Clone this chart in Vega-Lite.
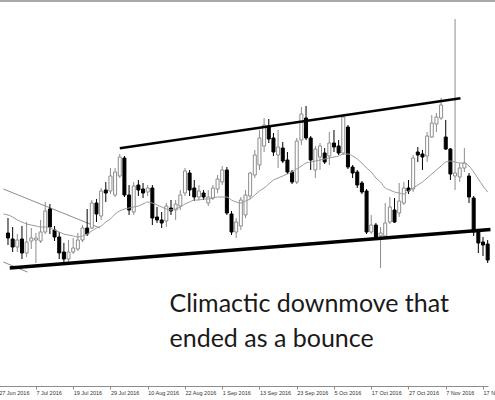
{
  "$schema": "https://vega.github.io/schema/vega-lite/v6.json",
  "width": 495,
  "height": 385,
  "autosize": {"type": "none"},
  "padding": {"left": 0, "top": 1, "right": 0, "bottom": 14},
  "background": "white",
  "config": {
    "view": {"stroke": null},
    "axis": {"grid": false}
  },
  "datasets": {
    "candles": [
      {"i":2,"o":1.2767,"h":1.2782,"l":1.2755,"c":1.2762},
      {"i":3,"o":1.2761,"h":1.2773,"l":1.2748,"c":1.2753},
      {"i":4,"o":1.2753,"h":1.2766,"l":1.2748,"c":1.2760},
      {"i":5,"o":1.2761,"h":1.2774,"l":1.2741,"c":1.2747},
      {"i":6,"o":1.2747,"h":1.2778,"l":1.2743,"c":1.2758},
      {"i":7,"o":1.2759,"h":1.2772,"l":1.2751,"c":1.2762},
      {"i":8,"o":1.2760,"h":1.2767,"l":1.2737,"c":1.2762},
      {"i":9,"o":1.2759,"h":1.2780,"l":1.2757,"c":1.2768},
      {"i":10,"o":1.2768,"h":1.2798,"l":1.2766,"c":1.2789},
      {"i":11,"o":1.2791,"h":1.2796,"l":1.2766,"c":1.2773},
      {"i":12,"o":1.2770,"h":1.2774,"l":1.2759,"c":1.2763},
      {"i":13,"o":1.2763,"h":1.2768,"l":1.2741,"c":1.2747},
      {"i":14,"o":1.2748,"h":1.2757,"l":1.2738,"c":1.2741},
      {"i":15,"o":1.2741,"h":1.2760,"l":1.2737,"c":1.2748},
      {"i":16,"o":1.2748,"h":1.2762,"l":1.2746,"c":1.2752},
      {"i":17,"o":1.2751,"h":1.2767,"l":1.2749,"c":1.2760},
      {"i":18,"o":1.2760,"h":1.2775,"l":1.2758,"c":1.2772},
      {"i":19,"o":1.2772,"h":1.2791,"l":1.2764,"c":1.2766},
      {"i":20,"o":1.2772,"h":1.2800,"l":1.2771,"c":1.2797},
      {"i":21,"o":1.2797,"h":1.2801,"l":1.2778,"c":1.2786},
      {"i":22,"o":1.2784,"h":1.2812,"l":1.2780,"c":1.2809},
      {"i":23,"o":1.2810,"h":1.2818,"l":1.2798,"c":1.2807},
      {"i":24,"o":1.2809,"h":1.2832,"l":1.2806,"c":1.2824},
      {"i":25,"o":1.2805,"h":1.2832,"l":1.2803,"c":1.2828},
      {"i":26,"o":1.2824,"h":1.2846,"l":1.2822,"c":1.2843},
      {"i":27,"o":1.2842,"h":1.2844,"l":1.2803,"c":1.2805},
      {"i":28,"o":1.2805,"h":1.2815,"l":1.2785,"c":1.2790},
      {"i":29,"o":1.2788,"h":1.2818,"l":1.2785,"c":1.2814},
      {"i":30,"o":1.2815,"h":1.2820,"l":1.2804,"c":1.2810},
      {"i":31,"o":1.2811,"h":1.2817,"l":1.2802,"c":1.2807},
      {"i":32,"o":1.2808,"h":1.2815,"l":1.2804,"c":1.2812},
      {"i":33,"o":1.2812,"h":1.2815,"l":1.2775,"c":1.2782},
      {"i":34,"o":1.2783,"h":1.2793,"l":1.2777,"c":1.2780},
      {"i":35,"o":1.2780,"h":1.2788,"l":1.2772,"c":1.2777},
      {"i":36,"o":1.2779,"h":1.2797,"l":1.2773,"c":1.2794},
      {"i":37,"o":1.2792,"h":1.2800,"l":1.2785,"c":1.2789},
      {"i":38,"o":1.2790,"h":1.2800,"l":1.2780,"c":1.2796},
      {"i":39,"o":1.2794,"h":1.2810,"l":1.2790,"c":1.2805},
      {"i":40,"o":1.2807,"h":1.2832,"l":1.2804,"c":1.2829},
      {"i":41,"o":1.2827,"h":1.2830,"l":1.2804,"c":1.2810},
      {"i":42,"o":1.2812,"h":1.2820,"l":1.2799,"c":1.2803},
      {"i":43,"o":1.2803,"h":1.2815,"l":1.2800,"c":1.2809},
      {"i":44,"o":1.2807,"h":1.2810,"l":1.2800,"c":1.2803},
      {"i":45,"o":1.2797,"h":1.2810,"l":1.2794,"c":1.2803},
      {"i":46,"o":1.2802,"h":1.2815,"l":1.2800,"c":1.2812},
      {"i":47,"o":1.2811,"h":1.2825,"l":1.2807,"c":1.2821},
      {"i":48,"o":1.2818,"h":1.2834,"l":1.2815,"c":1.2830},
      {"i":49,"o":1.2830,"h":1.2833,"l":1.2785,"c":1.2787},
      {"i":50,"o":1.2786,"h":1.2789,"l":1.2765,"c":1.2768},
      {"i":51,"o":1.2768,"h":1.2782,"l":1.2762,"c":1.2778},
      {"i":52,"o":1.2774,"h":1.2803,"l":1.2770,"c":1.2800},
      {"i":53,"o":1.2785,"h":1.2810,"l":1.2782,"c":1.2805},
      {"i":54,"o":1.2804,"h":1.2828,"l":1.2801,"c":1.2827},
      {"i":55,"o":1.2825,"h":1.2850,"l":1.2822,"c":1.2845},
      {"i":56,"o":1.2835,"h":1.2870,"l":1.2830,"c":1.2862},
      {"i":57,"o":1.2854,"h":1.2882,"l":1.2848,"c":1.2875},
      {"i":58,"o":1.2874,"h":1.2881,"l":1.2857,"c":1.2861},
      {"i":59,"o":1.2862,"h":1.2867,"l":1.2844,"c":1.2848},
      {"i":60,"o":1.2845,"h":1.2870,"l":1.2832,"c":1.2853},
      {"i":61,"o":1.2852,"h":1.2858,"l":1.2837,"c":1.2839},
      {"i":62,"o":1.2840,"h":1.2848,"l":1.2826,"c":1.2828},
      {"i":63,"o":1.2828,"h":1.2830,"l":1.2816,"c":1.2818},
      {"i":64,"o":1.2818,"h":1.2862,"l":1.2816,"c":1.2859},
      {"i":65,"o":1.2860,"h":1.2893,"l":1.2855,"c":1.2886},
      {"i":66,"o":1.2882,"h":1.2894,"l":1.2860,"c":1.2862},
      {"i":67,"o":1.2862,"h":1.2864,"l":1.2830,"c":1.2840},
      {"i":68,"o":1.2830,"h":1.2854,"l":1.2822,"c":1.2851},
      {"i":69,"o":1.2843,"h":1.2857,"l":1.2830,"c":1.2854},
      {"i":70,"o":1.2847,"h":1.2852,"l":1.2836,"c":1.2838},
      {"i":71,"o":1.2844,"h":1.2868,"l":1.2835,"c":1.2857},
      {"i":72,"o":1.2857,"h":1.2870,"l":1.2848,"c":1.2853},
      {"i":73,"o":1.2854,"h":1.2860,"l":1.2845,"c":1.2847},
      {"i":74,"o":1.2847,"h":1.2886,"l":1.2845,"c":1.2883},
      {"i":75,"o":1.2873,"h":1.2875,"l":1.2831,"c":1.2833},
      {"i":76,"o":1.2833,"h":1.2835,"l":1.2822,"c":1.2827},
      {"i":77,"o":1.2828,"h":1.2830,"l":1.2812,"c":1.2815},
      {"i":78,"o":1.2817,"h":1.2819,"l":1.2806,"c":1.2808},
      {"i":79,"o":1.2809,"h":1.2811,"l":1.2766,"c":1.2768},
      {"i":80,"o":1.2768,"h":1.2785,"l":1.2766,"c":1.2775},
      {"i":81,"o":1.2775,"h":1.2777,"l":1.2761,"c":1.2763},
      {"i":82,"o":1.2764,"h":1.2773,"l":1.2732,"c":1.2767},
      {"i":83,"o":1.2764,"h":1.2797,"l":1.2762,"c":1.2777},
      {"i":84,"o":1.2778,"h":1.2803,"l":1.2776,"c":1.2793},
      {"i":85,"o":1.2790,"h":1.2802,"l":1.2777,"c":1.2778},
      {"i":86,"o":1.2787,"h":1.2817,"l":1.2783,"c":1.2799},
      {"i":87,"o":1.2797,"h":1.2818,"l":1.2795,"c":1.2812},
      {"i":88,"o":1.2812,"h":1.2820,"l":1.2806,"c":1.2809},
      {"i":89,"o":1.2811,"h":1.2845,"l":1.2808,"c":1.2842},
      {"i":90,"o":1.2848,"h":1.2853,"l":1.2838,"c":1.2845},
      {"i":91,"o":1.2846,"h":1.2850,"l":1.2830,"c":1.2843},
      {"i":92,"o":1.2844,"h":1.2868,"l":1.2838,"c":1.2864},
      {"i":93,"o":1.2863,"h":1.2885,"l":1.2862,"c":1.2877},
      {"i":94,"o":1.2876,"h":1.2887,"l":1.2868,"c":1.2883},
      {"i":95,"o":1.2882,"h":1.2902,"l":1.2880,"c":1.2895},
      {"i":96,"o":1.2863,"h":1.2880,"l":1.2850,"c":1.2851},
      {"i":97,"o":1.2851,"h":1.2852,"l":1.2820,"c":1.2826},
      {"i":98,"o":1.2824,"h":1.2981,"l":1.2810,"c":1.2827},
      {"i":99,"o":1.2823,"h":1.2837,"l":1.2818,"c":1.2832},
      {"i":100,"o":1.2832,"h":1.2852,"l":1.2828,"c":1.2837},
      {"i":101,"o":1.2824,"h":1.2827,"l":1.2797,"c":1.2803},
      {"i":102,"o":1.2802,"h":1.2804,"l":1.2764,"c":1.2768},
      {"i":103,"o":1.2768,"h":1.2771,"l":1.2747,"c":1.2757},
      {"i":104,"o":1.2758,"h":1.2763,"l":1.2744,"c":1.2755},
      {"i":105,"o":1.2756,"h":1.2760,"l":1.2737,"c":1.2740}
    ],
    "ma": [
      {"i":1,"v":1.2786},{"i":2,"v":1.2785},{"i":3,"v":1.2783},{"i":4,"v":1.2780},{"i":5,"v":1.2778},
      {"i":6,"v":1.2776},{"i":7,"v":1.2775},{"i":8,"v":1.2774},{"i":9,"v":1.2773},{"i":10,"v":1.2773},
      {"i":11,"v":1.2772},{"i":12,"v":1.2770},{"i":13,"v":1.2768},{"i":14,"v":1.2766},{"i":15,"v":1.2765},
      {"i":16,"v":1.2764},{"i":17,"v":1.2763},{"i":18,"v":1.2764},{"i":19,"v":1.2766},{"i":20,"v":1.2769},
      {"i":21,"v":1.2772},{"i":22,"v":1.2774},{"i":23,"v":1.2778},{"i":24,"v":1.2781},{"i":25,"v":1.2786},
      {"i":26,"v":1.2789},{"i":27,"v":1.2791},{"i":28,"v":1.2792},{"i":29,"v":1.2793},{"i":30,"v":1.2794},
      {"i":31,"v":1.2796},{"i":32,"v":1.2798},{"i":33,"v":1.2797},{"i":34,"v":1.2795},{"i":35,"v":1.2793},
      {"i":36,"v":1.2791},{"i":37,"v":1.2790},{"i":38,"v":1.2791},{"i":39,"v":1.2793},{"i":40,"v":1.2796},
      {"i":41,"v":1.2798},{"i":42,"v":1.2800},{"i":43,"v":1.2800},{"i":44,"v":1.2801},{"i":45,"v":1.2801},
      {"i":46,"v":1.2802},{"i":47,"v":1.2803},{"i":48,"v":1.2803},{"i":49,"v":1.2803},{"i":50,"v":1.2800},
      {"i":51,"v":1.2798},{"i":52,"v":1.2797},{"i":53,"v":1.2799},{"i":54,"v":1.2801},{"i":55,"v":1.2805},
      {"i":56,"v":1.2809},{"i":57,"v":1.2812},{"i":58,"v":1.2816},{"i":59,"v":1.2820},{"i":60,"v":1.2822},
      {"i":61,"v":1.2824},{"i":62,"v":1.2826},{"i":63,"v":1.2828},{"i":64,"v":1.2831},{"i":65,"v":1.2834},
      {"i":66,"v":1.2837},{"i":67,"v":1.2838},{"i":68,"v":1.2839},{"i":69,"v":1.2840},{"i":70,"v":1.2841},
      {"i":71,"v":1.2842},{"i":72,"v":1.2843},{"i":73,"v":1.2844},{"i":74,"v":1.2846},{"i":75,"v":1.2846},
      {"i":76,"v":1.2844},{"i":77,"v":1.2841},{"i":78,"v":1.2837},{"i":79,"v":1.2832},{"i":80,"v":1.2828},
      {"i":81,"v":1.2822},{"i":82,"v":1.2818},{"i":83,"v":1.2812},{"i":84,"v":1.2810},{"i":85,"v":1.2808},
      {"i":86,"v":1.2807},{"i":87,"v":1.2806},{"i":88,"v":1.2809},{"i":89,"v":1.2812},{"i":90,"v":1.2815},
      {"i":91,"v":1.2818},{"i":92,"v":1.2822},{"i":93,"v":1.2826},{"i":94,"v":1.2830},{"i":95,"v":1.2834},
      {"i":96,"v":1.2838},{"i":97,"v":1.2839},{"i":98,"v":1.2838},{"i":99,"v":1.2837},{"i":100,"v":1.2837},
      {"i":101,"v":1.2834},{"i":102,"v":1.2828},{"i":103,"v":1.2821},{"i":104,"v":1.2814},{"i":105,"v":1.2808}
    ],
    "lines": [
      {"line":"support","i":2.38,"p":1.2732},
      {"line":"support","i":105.6,"p":1.27705},
      {"line":"resistance","i":26.01,"p":1.28517},
      {"line":"resistance","i":99.16,"p":1.29017}
    ],
    "thin": [
      {"line":"upper","i":1.0,"p":1.2811},
      {"line":"upper","i":21.74,"p":1.2772},
      {"line":"lower","i":1.0,"p":1.2738},
      {"line":"lower","i":6.17,"p":1.2728}
    ],
    "frame": [
      {"p":1.2999}
    ],
    "notes": [
      {"i":36.68,"p":1.2688,"text":"Climactic downmove that"},
      {"i":36.68,"p":1.2653,"text":"ended as a bounce"}
    ]
  },
  "layer": [
    {
      "data": {"name": "thin"},
      "mark": {"type": "line", "color": "#8c8c8c", "strokeWidth": 1, "clip": true},
      "encoding": {
        "x": {"field": "i", "type": "quantitative",
              "scale": {"domain": [0, 104], "range": [-6.32, 488.0], "nice": false, "zero": false},
              "axis": {
                "values": [0,8,16,24,32,40,48,56,64,72,80,88,96,104],
                "tickCount": 30,
                "labelExpr": "['27 Jun 2016','7 Jul 2016','19 Jul 2016','29 Jul 2016','10 Aug 2016','22 Aug 2016','1 Sep 2016','13 Sep 2016','23 Sep 2016','5 Oct 2016','17 Oct 2016','27 Oct 2016','7 Nov 2016','17 Nov 2016'][round(datum.value/8)]",
                "title": null,
                "domainColor": "#8c8c8c",
                "tickColor": "#8c8c8c",
                "tickSize": 3,
                "labelFont": "Liberation Sans",
                "labelFontSize": 5.5,
                "labelColor": "#333333",
                "labelAlign": "left",
                "labelBaseline": "top",
                "labelPadding": 1,
                "labelDx": 1,
                "labelFlush": false,
                "labelOverlap": false,
                "labelBound": false
              }},
        "y": {"field": "p", "type": "quantitative",
              "scale": {"domain": [1.2614, 1.2999], "nice": false, "zero": false},
              "axis": null},
        "detail": {"field": "line"}
      }
    },
    {
      "data": {"name": "frame"},
      "mark": {"type": "rule", "color": "#8c8c8c", "strokeWidth": 1.5},
      "encoding": {
        "y": {"field": "p", "type": "quantitative"}
      }
    },
    {
      "data": {"name": "candles"},
      "mark": {"type": "rule", "strokeWidth": 1, "clip": true},
      "encoding": {
        "x": {"field": "i", "type": "quantitative"},
        "y": {"field": "l", "type": "quantitative"},
        "y2": {"field": "h"},
        "color": {"condition": {"test": "datum.c >= datum.o", "value": "#8c8c8c"}, "value": "#000000"}
      }
    },
    {
      "data": {"name": "candles"},
      "mark": {"type": "bar", "size": 3, "strokeWidth": 1, "clip": true},
      "encoding": {
        "x": {"field": "i", "type": "quantitative"},
        "y": {"field": "o", "type": "quantitative"},
        "y2": {"field": "c"},
        "fill": {"condition": {"test": "datum.c >= datum.o", "value": "#ffffff"}, "value": "#000000"},
        "stroke": {"condition": {"test": "datum.c >= datum.o", "value": "#8c8c8c"}, "value": "#000000"}
      }
    },
    {
      "data": {"name": "ma"},
      "mark": {"type": "line", "color": "#999999", "strokeWidth": 1, "interpolate": "monotone", "clip": true},
      "encoding": {
        "x": {"field": "i", "type": "quantitative"},
        "y": {"field": "v", "type": "quantitative"}
      }
    },
    {
      "data": {"name": "lines"},
      "mark": {"type": "line", "color": "#000000", "clip": true},
      "encoding": {
        "x": {"field": "i", "type": "quantitative"},
        "y": {"field": "p", "type": "quantitative"},
        "detail": {"field": "line"},
        "strokeWidth": {"field": "line", "type": "nominal", "scale": {"domain": ["support", "resistance"], "range": [3.5, 2.5]}, "legend": null}
      }
    },
    {
      "data": {"name": "notes"},
      "mark": {"type": "text", "align": "left", "baseline": "alphabetic", "font": "Lato", "fontSize": 25, "color": "#1a1a1a"},
      "encoding": {
        "x": {"field": "i", "type": "quantitative"},
        "y": {"field": "p", "type": "quantitative"},
        "text": {"field": "text"}
      }
    }
  ]
}
